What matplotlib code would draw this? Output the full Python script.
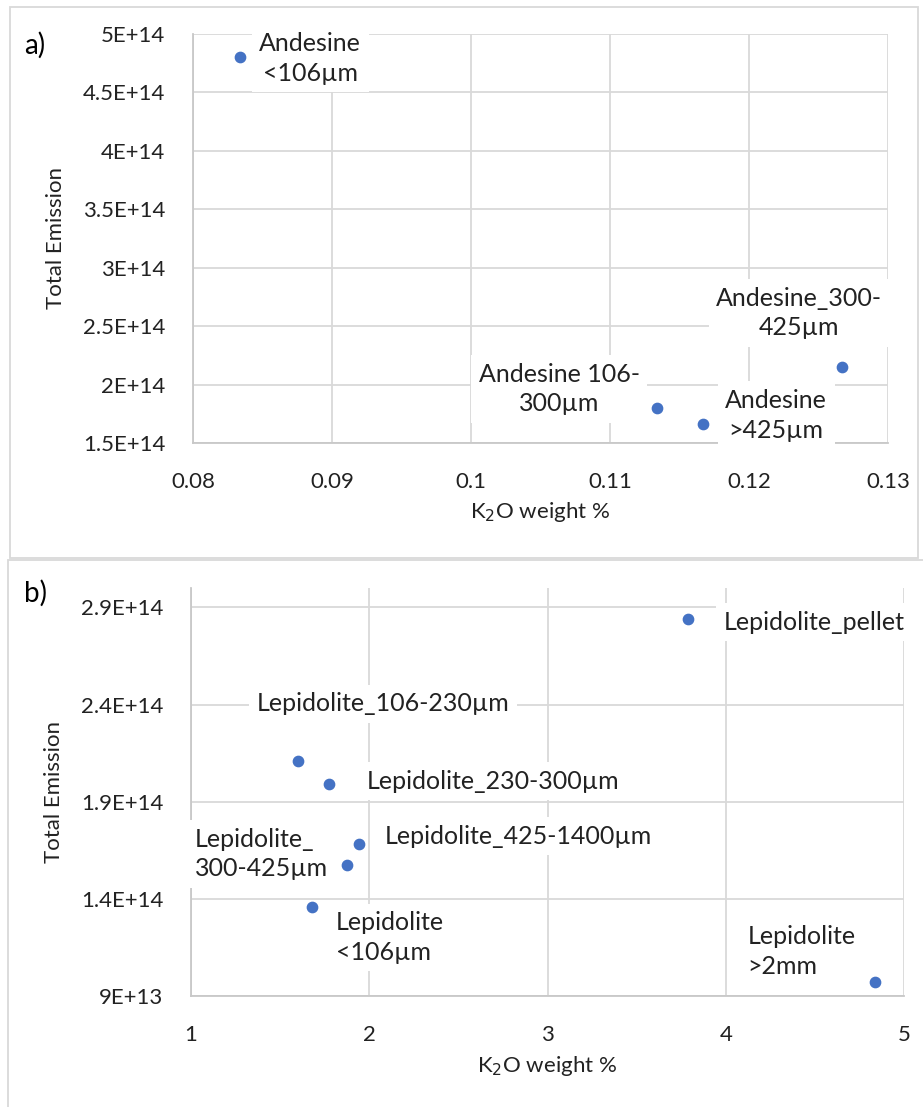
import matplotlib
matplotlib.use("Agg")
import matplotlib.pyplot as plt
from matplotlib.patches import Rectangle
from matplotlib.ticker import FuncFormatter

plt.rcParams['font.family'] = ['Lato', 'DejaVu Sans']

# panel a - andesine
and_names = ["Andesine\n<106µm", "Andesine 106-\n300µm", "Andesine\n>425µm", "Andesine_300-\n425µm"]
and_k2o = [0.0834, 0.1134, 0.1167, 0.1267]
and_emis = [4.80e14, 1.80e14, 1.66e14, 2.15e14]
# label offsets (pixels) and alignment
and_off = [(70, -1), (-98, 19), (73, 9), (-43, 54)]
and_ha = ["center", "center", "center", "center"]

# panel b - lepidolite
lep_names = ["Lepidolite_pellet", "Lepidolite_106-230µm", "Lepidolite_230-300µm",
             "Lepidolite_425-1400µm", "Lepidolite_\n300-425µm", "Lepidolite\n<106µm",
             "Lepidolite\n>2mm"]
lep_k2o = [3.79, 1.60, 1.775, 1.94, 1.875, 1.68, 4.84]
lep_emis = [2.84e14, 2.11e14, 1.99e14, 1.68e14, 1.575e14, 1.36e14, 0.97e14]
lep_off = [(35, -3), (85, 57), (38, 3), (26, 8), (-152, 11), (24, -31), (-128, 31)]
lep_ha = ["left", "center", "left", "left", "left", "left", "left"]

a_xticks = [0.08, 0.09, 0.1, 0.11, 0.12, 0.13]
a_xlabels = ["0.08", "0.09", "0.1", "0.11", "0.12", "0.13"]
a_yticks = [1.5e14, 2e14, 2.5e14, 3e14, 3.5e14, 4e14, 4.5e14, 5e14]
b_xticks = [1, 2, 3, 4, 5]
b_yticks = [0.9e14, 1.4e14, 1.9e14, 2.4e14, 2.9e14]

W, H = 923, 1107
BLUE = "#4472C4"
GRID = "#d9d9d9"
TXT = "#222222"


def sci(v, pos=None):
    e = len(str(int(v))) - 1
    m = v / 10 ** e
    ms = ("%.1f" % m).rstrip("0").rstrip(".")
    return "%sE+%d" % (ms, e)


def frac(left, top, right, bottom):
    return [left / W, 1 - bottom / H, (right - left) / W, (bottom - top) / H]


def style(ax, xticks, yticks, xlabels=None):
    ax.set_xticks(xticks)
    if xlabels:
        ax.set_xticklabels(xlabels)
    ax.set_yticks(yticks)
    ax.yaxis.set_major_formatter(FuncFormatter(sci))
    ax.grid(True, color=GRID, lw=1.3, zorder=0)
    ax.set_axisbelow(True)
    for s in ["top", "right"]:
        ax.spines[s].set_visible(False)
    for s in ["left", "bottom"]:
        ax.spines[s].set_color("#c8c8c8")
        ax.spines[s].set_linewidth(1.3)
    ax.tick_params(length=0, labelsize=16, colors=TXT)
    ax.tick_params(axis="x", pad=21)
    ax.tick_params(axis="y", pad=20)
    ax.set_xlabel("K$_2$O weight %", fontsize=16, color=TXT, labelpad=6)
    ax.set_ylabel("Total Emission", fontsize=16, color=TXT, labelpad=12)


def labels(ax, xs, ys, names, offs, has):
    for x, y, n, o, h in zip(xs, ys, names, offs, has):
        ax.annotate(n, (x, y), xytext=o, textcoords="offset pixels", ha=h,
                    va="center", multialignment=h, fontsize=18, color=TXT,
                    linespacing=1.35, zorder=3,
                    bbox=dict(boxstyle="square,pad=0.3", fc="white", ec="none"))


fig = plt.figure(figsize=(W / 100, H / 100), dpi=100)

# panel frames
fig.patches.append(Rectangle((10 / W, 1 - 558 / H), 908 / W, 551 / H,
                             transform=fig.transFigure, fill=False, ec=GRID, lw=1.3))
fig.patches.append(Rectangle((8 / W, -0.01), 925 / W, 1 - 560 / H + 0.01,
                             transform=fig.transFigure, fill=False, ec=GRID, lw=1.3))

ax1 = fig.add_axes(frac(193, 34, 888, 443))
ax1.scatter(and_k2o, and_emis, s=55, color=BLUE, zorder=4)
ax1.set_xlim(0.08, 0.13)
ax1.set_ylim(1.5e14, 5e14)
style(ax1, a_xticks, a_yticks, a_xlabels)
labels(ax1, and_k2o, and_emis, and_names, and_off, and_ha)

ax2 = fig.add_axes(frac(191, 588, 904, 996))
ax2.scatter(lep_k2o, lep_emis, s=55, color=BLUE, zorder=4)
ax2.set_xlim(1, 5)
ax2.set_ylim(0.9e14, 3e14)
style(ax2, b_xticks, b_yticks)
labels(ax2, lep_k2o, lep_emis, lep_names, lep_off, lep_ha)

fig.text(24 / W, 1 - 45 / H, "a)", fontsize=20, va="center", ha="left")
fig.text(24 / W, 1 - 593 / H, "b)", fontsize=20, va="center", ha="left")

fig.savefig("out.png", dpi=100)
